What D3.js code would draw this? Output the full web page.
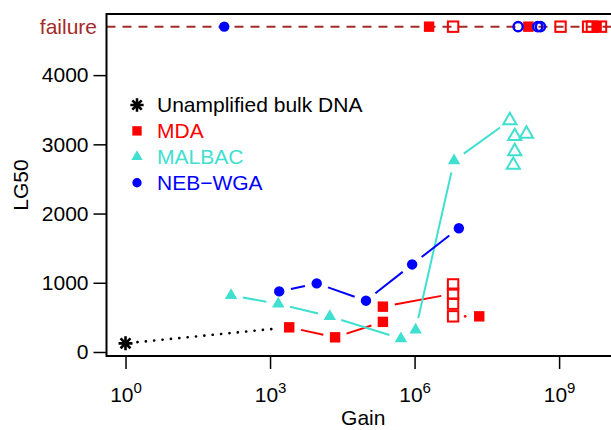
<!DOCTYPE html>
<html>
<head>
<meta charset="utf-8">
<script src="https://cdn.jsdelivr.net/npm/d3@7.9.0/dist/d3.min.js"></script>
<style>
  html, body { margin: 0; padding: 0; background: #fff; }
  svg { display: block; font-family: "Liberation Sans", Arial, Helvetica, sans-serif; }
</style>
</head>
<body>
<svg id="chart" width="611" height="430"></svg>
<script>
// LG50 value used to park failed samples on the "failure" row
const FAILURE = 4700;

const bulkGain = [1];
const bulkLG50 = [125];

// MDA: filled = main series, open = replicates
const mdaGain = [2.5e3, 2.24e4, 2.2e5, 2.2e5, 6.3e6, 6.3e6, 6.3e6, 6.3e6, 2.2e7];
const mdaLG50 = [356, 212, 435, 655, 976, 842, 698, 515, 515];
const mdaOpen = [0, 0, 0, 0, 1, 1, 1, 1, 0];
const mdaSolidPath = [0, 1, 2, 3, 5];
const mdaDottedPath = [7, 8];

const malbacGain = [155, 1480, 1.74e4, 5.2e5, 1.05e6, 6.6e6, 9.5e7, 1.2e8, 2.1e8, 1.2e8, 1.12e8];
const malbacLG50 = [818, 695, 515, 193, 319, 2764, 3345, 3117, 3151, 2898, 2701];
const malbacOpen = [0, 0, 0, 0, 0, 0, 1, 1, 1, 1, 1];
const malbacSolidPath = [0, 1, 2, 3, 4, 5, 6];

const nebGain = [1550, 9300, 9.8e4, 8.9e5, 8.3e6];
const nebLG50 = [875, 991, 741, 1265, 1788];

// samples that failed, by gain
const mdaFailGain = [2.0e6, 6.3e6, 2.3e8, 1.07e9, 4.0e9, 4.8e9, 6.0e9, 7.4e9];
const mdaFailOpen = [0, 1, 0, 1, 1, 1, 0, 1];
const nebFailGain = [112, 1.41e8, 3.6e8, 4.1e8];
const nebFailOpen = [0, 1, 1, 1];

const yTicks = [0, 1000, 2000, 3000, 4000];
const xTickExp = [0, 3, 6, 9];

const legendLabels = ["Unamplified bulk DNA", "MDA", "MALBAC", "NEB\u2212WGA"];
const legendColors = ["#000000", "#ff0000", "#40e0d0", "#0000ff"];
const legendShapes = ["star", "square", "triangle", "circle"];

const RED = "#ff0000", TURQ = "#40e0d0", BLUE = "#0000ff", BROWN = "#a52a2a";
const FS = 21;

const svg = d3.select("#chart");
const box = { left: 106.5, right: 620, top: 14, bottom: 356 };

// R style 4% padding around the data range
const logMin = 0, logMax = Math.log10(d3.max(mdaFailGain));
const xPad = (logMax - logMin) * 0.04;
const x = d3.scaleLog()
  .domain([10 ** (logMin - xPad), 10 ** (logMax + xPad)])
  .range([box.left, box.right]);

const yPad = (FAILURE - bulkLG50[0]) * 0.04;
const y = d3.scaleLinear()
  .domain([bulkLG50[0] - yPad, FAILURE + yPad])
  .range([box.bottom, box.top]);

// failure reference line
svg.append("line")
  .attr("x1", box.left).attr("x2", box.right)
  .attr("y1", y(FAILURE)).attr("y2", y(FAILURE))
  .attr("stroke", BROWN).attr("stroke-width", 2)
  .attr("stroke-dasharray", "9,7");

svg.append("text")
  .attr("x", 97).attr("y", y(FAILURE))
  .attr("dy", "0.35em")
  .attr("text-anchor", "end")
  .attr("fill", BROWN)
  .attr("font-size", FS)
  .text("failure");

// line with gaps around points, like R type="b"
const GAP = 12;
function gappedSegments(pts, color, dash, width) {
  for (let i = 0; i < pts.length - 1; i++) {
    const [x1, y1] = pts[i], [x2, y2] = pts[i + 1];
    const len = Math.hypot(x2 - x1, y2 - y1);
    if (len <= 2 * GAP) continue;
    const ux = (x2 - x1) / len, uy = (y2 - y1) / len;
    svg.append("line")
      .attr("x1", x1 + ux * GAP).attr("y1", y1 + uy * GAP)
      .attr("x2", x2 - ux * GAP).attr("y2", y2 - uy * GAP)
      .attr("stroke", color).attr("stroke-width", width || 2)
      .attr("stroke-linecap", dash ? "round" : "butt")
      .attr("stroke-dasharray", dash || null);
  }
}

function drawMark(cx, cy, shape, color, open, size) {
  const s = size || 1;
  if (shape === "square") {
    const h = 5.2 * s;
    svg.append("rect")
      .attr("x", cx - h).attr("y", cy - h)
      .attr("width", 2 * h).attr("height", 2 * h)
      .attr("fill", open ? "none" : color)
      .attr("stroke", open ? color : "none")
      .attr("stroke-width", 2);
  } else if (shape === "triangle") {
    const r = (open ? 7.6 : 7.2) * s;
    const pts = [[cx, cy - r], [cx - r * 0.866, cy + r * 0.5], [cx + r * 0.866, cy + r * 0.5]];
    svg.append("polygon")
      .attr("points", pts.map(p => p.join(",")).join(" "))
      .attr("fill", open ? "none" : color)
      .attr("stroke", open ? color : "none")
      .attr("stroke-width", 2);
  } else if (shape === "circle") {
    svg.append("circle")
      .attr("cx", cx).attr("cy", cy)
      .attr("r", (open ? 4.6 : 5.2) * s)
      .attr("fill", open ? "none" : color)
      .attr("stroke", open ? color : "none")
      .attr("stroke-width", 2.4);
  } else if (shape === "star") {
    const r = 7 * s, d = r * 0.707;
    const path = `M${cx - r},${cy}L${cx + r},${cy}M${cx},${cy - r}L${cx},${cy + r}` +
      `M${cx - d},${cy - d}L${cx + d},${cy + d}M${cx - d},${cy + d}L${cx + d},${cy - d}`;
    svg.append("path").attr("d", path)
      .attr("stroke", color).attr("stroke-width", 2.6).attr("fill", "none");
  }
}

// bulk DNA dotted link to first MDA point
gappedSegments([[x(bulkGain[0]), y(bulkLG50[0])], [x(mdaGain[0]), y(mdaLG50[0])]], "#000", "0.1,8.3", 2.6);
drawMark(x(bulkGain[0]), y(bulkLG50[0]), "star", "#000", false);

// MDA
gappedSegments(mdaSolidPath.map(i => [x(mdaGain[i]), y(mdaLG50[i])]), RED);
gappedSegments(mdaDottedPath.map(i => [x(mdaGain[i]), y(mdaLG50[i])]), RED, "0.1,6", 2.6);
mdaGain.forEach((g, i) => drawMark(x(g), y(mdaLG50[i]), "square", RED, mdaOpen[i]));

// MALBAC
gappedSegments(malbacSolidPath.map(i => [x(malbacGain[i]), y(malbacLG50[i])]), TURQ);
malbacGain.forEach((g, i) => drawMark(x(g), y(malbacLG50[i]), "triangle", TURQ, malbacOpen[i]));

// NEB-WGA
gappedSegments(nebGain.map((g, i) => [x(g), y(nebLG50[i])]), BLUE);
nebGain.forEach((g, i) => drawMark(x(g), y(nebLG50[i]), "circle", BLUE, false));

// failures
mdaFailGain.forEach((g, i) => drawMark(x(g), y(FAILURE), "square", RED, mdaFailOpen[i]));
nebFailGain.forEach((g, i) => drawMark(x(g), y(FAILURE), "circle", BLUE, nebFailOpen[i]));

// axes
const yAxis = d3.axisLeft(y).tickValues(yTicks).tickSize(13).tickPadding(5).tickFormat(d3.format("d"));
svg.append("g")
  .attr("transform", `translate(${box.left},0)`)
  .call(yAxis)
  .call(g => g.select(".domain").remove())
  .call(g => g.selectAll(".tick line").attr("stroke-width", 1.5))
  .call(g => g.selectAll(".tick text").attr("font-size", FS).attr("font-family", null));

const xAxis = d3.axisBottom(x).tickValues(xTickExp.map(e => 10 ** e)).tickSize(13).tickFormat(() => "");
svg.append("g")
  .attr("transform", `translate(0,${box.bottom})`)
  .call(xAxis)
  .call(g => g.select(".domain").remove())
  .call(g => g.selectAll(".tick line").attr("stroke-width", 1.5))
  .call(g => g.selectAll(".tick text").remove())
  .call(g => g.selectAll(".tick").append("text")
    .attr("y", 46)
    .attr("fill", "#000")
    .attr("text-anchor", "middle")
    .attr("font-size", FS)
    .each(function (d) {
      const t = d3.select(this);
      t.append("tspan").text("10");
      t.append("tspan").attr("dy", -9).attr("font-size", 15).text(Math.round(Math.log10(d)));
    }));

// plot frame
svg.append("rect")
  .attr("x", box.left).attr("y", box.top)
  .attr("width", box.right - box.left).attr("height", box.bottom - box.top)
  .attr("fill", "none").attr("stroke", "#000").attr("stroke-width", 2);

// axis titles
svg.append("text")
  .attr("x", (box.left + box.right) / 2).attr("y", 425)
  .attr("text-anchor", "middle").attr("font-size", FS)
  .text("Gain");
svg.append("text")
  .attr("transform", `translate(28,${(box.top + box.bottom) / 2}) rotate(-90)`)
  .attr("text-anchor", "middle").attr("font-size", FS)
  .text("LG50");

// legend
const legend = svg.append("g").attr("transform", "translate(137,105)");
legendLabels.forEach((lab, i) => {
  const ly = i * 25.9;
  drawMark(137, 105 + ly, legendShapes[i], legendColors[i], false, legendShapes[i] === "star" ? 0.95 : 0.9);
  legend.append("text")
    .attr("x", 20).attr("y", ly)
    .attr("dy", "0.35em")
    .attr("fill", legendColors[i])
    .attr("font-size", FS)
    .text(lab);
});
</script>
</body>
</html>
